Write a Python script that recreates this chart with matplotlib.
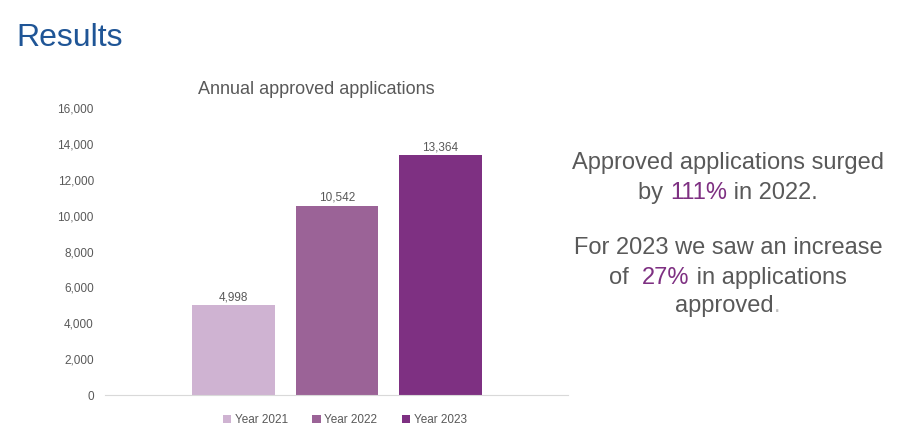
import matplotlib.pyplot as plt
from matplotlib.ticker import FuncFormatter

plt.rcParams['font.family'] = ['Liberation Sans', 'DejaVu Sans']

years = ['Year 2021', 'Year 2022', 'Year 2023']
approved = [4998, 10542, 13364]
bar_colors = ['#cfb3d2', '#9b6397', '#7e3082']
gray = '#595959'

fig = plt.figure(figsize=(8.97, 4.42), dpi=100)
fig.text(0.018, 0.915, 'Results', fontsize=23, color='#1f5596', va='center')

# axes placed to match the slide (pixel coords / figure size)
ax = fig.add_axes([105 / 897, 1 - 395 / 442, (568 - 105) / 897, (395 - 108) / 442])
x = range(len(years))
bars = ax.bar(x, approved, width=0.8, color=bar_colors, label=years)
for b, v in zip(bars, approved):
    ax.text(b.get_x() + b.get_width() / 2, v + 120, f'{v:,}', ha='center', va='bottom',
            fontsize=8.5, color=gray)

ax.set_ylim(0, 16000)
ax.set_yticks(range(0, 16001, 2000))
ax.yaxis.set_major_formatter(FuncFormatter(lambda v, p: f'{int(v):,}'))
ax.set_xlim(-1.24, 3.23)
ax.set_xticks([])
ax.tick_params(axis='y', length=0, labelsize=8.5, labelcolor=gray, pad=8)
for s in ['top', 'right', 'left']:
    ax.spines[s].set_visible(False)
ax.spines['bottom'].set_color('#d9d9d9')
ax.set_title('Annual approved applications', fontsize=13, color=gray, pad=10, x=0.457)

ax.legend(loc='upper center', bbox_to_anchor=(0.518, -0.03), ncol=3, frameon=False,
          fontsize=8.5, labelcolor=gray, handlelength=0.7, handleheight=0.7,
          handletextpad=0.3, columnspacing=2.1)

# right-hand commentary with highlighted numbers
lines = [
    [('Approved applications surged', gray)],
    [('by ', gray), ('111%', '#7e3082'), (' in 2022.', gray)],
    [],
    [('For 2023 we saw an increase', gray)],
    [('of  ', gray), ('27%', '#7e3082'), (' in applications', gray)],
    [('approved', gray), ('.', '#bfbfbf')],
]
line_y = [163, 193, None, 248, 278, 306]
cx = 728
renderer = fig.canvas.get_renderer()
for parts, py in zip(lines, line_y):
    if not parts:
        continue
    texts = []
    for s, c in parts:
        t = fig.text(0, 1 - py / 442, s, fontsize=17, color=c, va='center', ha='left')
        texts.append(t)
    widths = [t.get_window_extent(renderer).width for t in texts]
    left = cx - sum(widths) / 2
    for t, w in zip(texts, widths):
        t.set_x(left / 897)
        left += w

fig.savefig('out.png', dpi=100)
